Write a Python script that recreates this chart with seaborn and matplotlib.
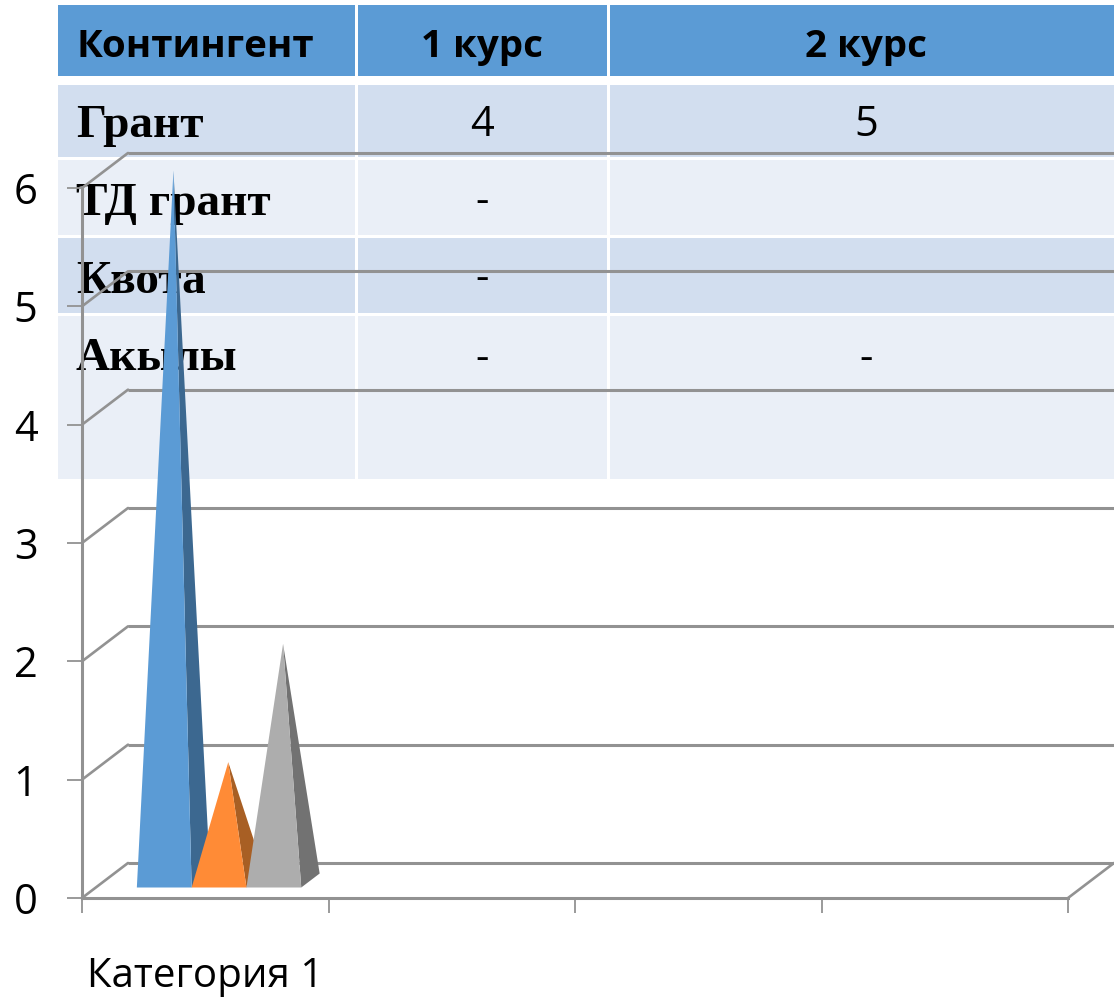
import matplotlib
matplotlib.use("Agg")
import matplotlib.pyplot as plt
from matplotlib.patches import Polygon, Rectangle
import numpy as np
import pandas as pd
import seaborn as sns

# данные диаграммы
CATEGORIES = ['Категория 1', 'Пусто 2', 'Пусто 3', 'Пусто 4']
SERIES = ['Ряд 1', 'Ряд 2', 'Ряд 3']
VALUES_1 = [6, np.nan, np.nan, np.nan]
VALUES_2 = [1, np.nan, np.nan, np.nan]
VALUES_3 = [2, np.nan, np.nan, np.nan]
Y_TICKS = [0, 1, 2, 3, 4, 5, 6]

# таблица на фоне
TABLE_HEADER = ['Контингент', '1 курс', '2 курс']
ROW_NAMES = ['Грант', 'ТД грант', 'Квота', 'Акылы']
COL_1 = ['4', '-', '-', '-']
COL_2 = ['5', '', '', '-']

W, H = 1114, 998
COL_EDGES = [(58, 355), (358, 607), (610, 1114)]
ROW_EDGES = [(5, 76), (85, 157), (160, 235), (238, 313), (316, 479)]
ROW_COLORS = ['#5B9BD5', '#D2DEEF', '#EAEFF7', '#D2DEEF', '#EAEFF7']
BASELINES = [57, 137, 215, 293, 370]
DASH_BASELINES = [136, 213, 290, 370]

COLORS = ['#5B9BD5', '#FF8B36', '#ADADAD']
SIDE_COLORS = ['#3C6890', '#A85F24', '#727272']
GRID = '#929292'
SANS = 'Open Sans'
SERIF = 'Liberation Serif'

sns.set_theme(style='white')
plt.rcParams['font.family'] = [SANS, 'DejaVu Sans']

fig = plt.figure(figsize=(W / 100, H / 100), dpi=100, facecolor='white')

# ── Таблица ────────────────────────────────────────────────────────────────
tab = fig.add_axes([0, 0, 1, 1], zorder=0)
tab.set_xlim(0, W)
tab.set_ylim(H, 0)
tab.axis('off')
for (y0, y1), color in zip(ROW_EDGES, ROW_COLORS):
    for x0, x1 in COL_EDGES:
        tab.add_patch(Rectangle((x0, y0), x1 - x0, y1 - y0, fc=color, ec='none'))

tab.text(77, BASELINES[0], TABLE_HEADER[0], fontsize=27.7, fontweight='bold',
         color='black', va='baseline')
tab.text(482, BASELINES[0], TABLE_HEADER[1], fontsize=27.7, fontweight='bold',
         color='black', va='baseline', ha='center')
tab.text(866, BASELINES[0], TABLE_HEADER[2], fontsize=27.7, fontweight='bold',
         color='black', va='baseline', ha='center')
for i, name in enumerate(ROW_NAMES):
    tab.text(76, BASELINES[i + 1], name, fontsize=34, fontweight='bold',
             family=SERIF, color='black', va='baseline')
    tab.text(482, DASH_BASELINES[i], COL_1[i], fontsize=30, color='black',
             va='baseline', ha='center')
    tab.text(866, DASH_BASELINES[i], COL_2[i], fontsize=30, color='black',
             va='baseline', ha='center')

# ── Диаграмма ──────────────────────────────────────────────────────────────
ax = fig.add_axes([82 / W, 1 - 898 / H, (1068 - 82) / W, (898 - 188) / H], zorder=1)
ax.patch.set_alpha(0)

df = pd.DataFrame({
    'category': CATEGORIES * 3,
    'series': np.repeat(SERIES, len(CATEGORIES)),
    'value': VALUES_1 + VALUES_2 + VALUES_3,
})
sns.barplot(data=df, x='category', y='value', hue='series', order=CATEGORIES,
            hue_order=SERIES, palette=COLORS, width=0.667, legend=False, ax=ax)
ax.set_xlim(-0.5, 3.5)
ax.set_ylim(0, 6)

# глубина 3D-стенки в единицах данных
DX = 46 / 246.5
DY = 35 / 118.33
FRONT = 0.3
BACK = 0.7

# стенка и пол
for v in Y_TICKS:
    ax.plot([-0.5, -0.5 + DX], [v, v + DY], color=GRID, lw=1.9, clip_on=False, zorder=1)
    ax.plot([-0.5 + DX, 3.5 + DX], [v + DY, v + DY], color=GRID, lw=2.2,
            clip_on=False, zorder=1, solid_capstyle='butt')
ax.plot([3.5, 3.5 + DX], [0, DY], color=GRID, lw=1.9, clip_on=False, zorder=1)

# столбцы превращаем в пирамиды
bars = [p for p in ax.patches if np.isfinite(p.get_height()) and p.get_height() > 0]
for n, p in enumerate(bars):
    p.set_visible(False)
    x0, x1, h = p.get_x(), p.get_x() + p.get_width(), p.get_height()
    apex = ((x0 + x1) / 2 + DX / 2, h + DY / 2)
    fl = (x0 + DX * FRONT, DY * FRONT)
    fr = (x1 + DX * FRONT, DY * FRONT)
    br = (x1 + DX * BACK, DY * BACK)
    ax.add_patch(Polygon([fr, br, apex], fc=SIDE_COLORS[n], ec='none',
                         clip_on=False, zorder=3 + n))
    ax.add_patch(Polygon([fl, fr, apex], fc=COLORS[n], ec='none',
                         clip_on=False, zorder=3 + n))

# оси
sns.despine(ax=ax, top=True, right=True)
for side in ['left', 'bottom']:
    ax.spines[side].set_color(GRID)
    ax.spines[side].set_linewidth(2.2)
    ax.spines[side].set_zorder(2)

ax.set_yticks(Y_TICKS)
ax.set_xticks(np.arange(-0.5, 4, 1))
ax.set_xticklabels([])
ax.set_xticks([0], labels=[CATEGORIES[0]], minor=True)
ax.tick_params(axis='y', which='major', left=True, length=11, width=1.3, color=GRID,
               labelsize=30, pad=21, labelcolor='black')
ax.tick_params(axis='x', which='major', bottom=True, length=11, width=1.3, color=GRID)
ax.tick_params(axis='x', which='minor', bottom=True, length=0, labelsize=29, pad=42,
               labelcolor='black')
ax.set_xlabel('')
ax.set_ylabel('')

fig.savefig('out.png', dpi=100)
